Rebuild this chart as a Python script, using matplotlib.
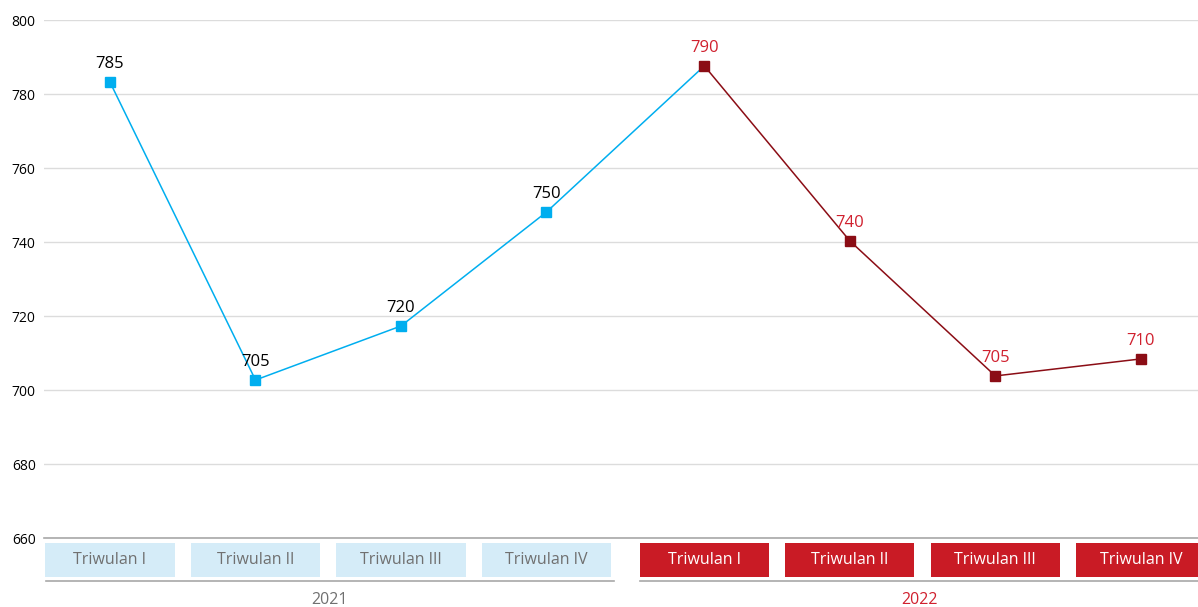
import matplotlib.pyplot as plt
from matplotlib.patches import Rectangle
import matplotlib.transforms as mtransforms

plt.switch_backend("agg")
plt.rcParams["font.family"] = ["Open Sans", "DejaVu Sans"]

quarters = ["Triwulan I", "Triwulan II", "Triwulan III", "Triwulan IV"]
years = ["2021", "2022"]
values_2021 = [783.2, 702.7, 717.3, 748.1]
values_2022 = [787.6, 740.3, 703.8, 708.4]
labels_2021 = ["785", "705", "720", "750"]
labels_2022 = ["790", "740", "705", "710"]

BLUE = "#00aeef"
LIGHT_BLUE = "#d5ecf8"
DARK_RED = "#8b0d15"
RED = "#c91b25"
LABEL_RED = "#d0202e"
GREY_TEXT = "#707070"
GROUP_GAP = 0.085  # extra space between the two years

fig = plt.figure(figsize=(11.98, 6.07), dpi=100)
ax = fig.add_axes([44 / 1198, 1 - 538 / 607, 1 - 44 / 1198, 518 / 607])

x21 = list(range(len(values_2021)))
x22 = [len(values_2021) + GROUP_GAP + i for i in range(len(values_2022))]

# connecting segment belongs to the 2021 colour
ax.plot(x21 + [x22[0]], values_2021 + [values_2022[0]], color=BLUE, lw=1.1, zorder=3)
ax.plot(x22, values_2022, color=DARK_RED, lw=1.1, zorder=3)
ax.plot(x21, values_2021, ls="none", marker="s", ms=7, color=BLUE, zorder=4)
ax.plot(x22, values_2022, ls="none", marker="s", ms=7, color=DARK_RED, zorder=4)

for x, v, t in zip(x21, values_2021, labels_2021):
    ax.annotate(t, (x, v), xytext=(0, 7), textcoords="offset points",
                ha="center", va="bottom", fontsize=12, color="black")
for x, v, t in zip(x22, values_2022, labels_2022):
    ax.annotate(t, (x, v), xytext=(0, 7), textcoords="offset points",
                ha="center", va="bottom", fontsize=12, color=LABEL_RED)

ax.set_ylim(660, 800)
ax.set_xlim(-0.4536, 7.478)
ax.set_yticks(range(660, 801, 20))
ax.set_xticks([])
ax.tick_params(axis="y", length=0, labelsize=10, pad=6)
ax.grid(axis="y", color="#dcdcdc", lw=1)
ax.set_axisbelow(True)
for s in ["top", "right", "left"]:
    ax.spines[s].set_visible(False)
ax.spines["bottom"].set_color("#a8a8a8")
ax.spines["bottom"].set_linewidth(1.2)

# category boxes under the axis
trans = mtransforms.blended_transform_factory(ax.transData, ax.transAxes)
box_w = 0.887
box_top = -5 / 518
box_h = 34 / 518
groups = [(x21, LIGHT_BLUE, GREY_TEXT), (x22, RED, "white")]
for xs, fc, tc in groups:
    for x, q in zip(xs, quarters):
        ax.add_patch(Rectangle((x - box_w / 2, box_top - box_h), box_w, box_h,
                               transform=trans, facecolor=fc, edgecolor="none",
                               clip_on=False))
        ax.text(x, box_top - box_h / 2, q, transform=trans, ha="center",
                va="center", fontsize=11.5, color=tc)

line_y = -43 / 518
year_y = -62 / 518
year_spans = [(-0.44, 3.464, GREY_TEXT), (3.643, 7.478, LABEL_RED)]
for yr, (a, b, c) in zip(years, year_spans):
    ax.plot([a, b], [line_y, line_y], transform=trans, color="#a8a8a8",
            lw=1.2, clip_on=False)
    ax.text((a + b) / 2, year_y, yr, transform=trans, ha="center",
            va="center", fontsize=11.5, color=c)

fig.savefig("out.png", dpi=100)
